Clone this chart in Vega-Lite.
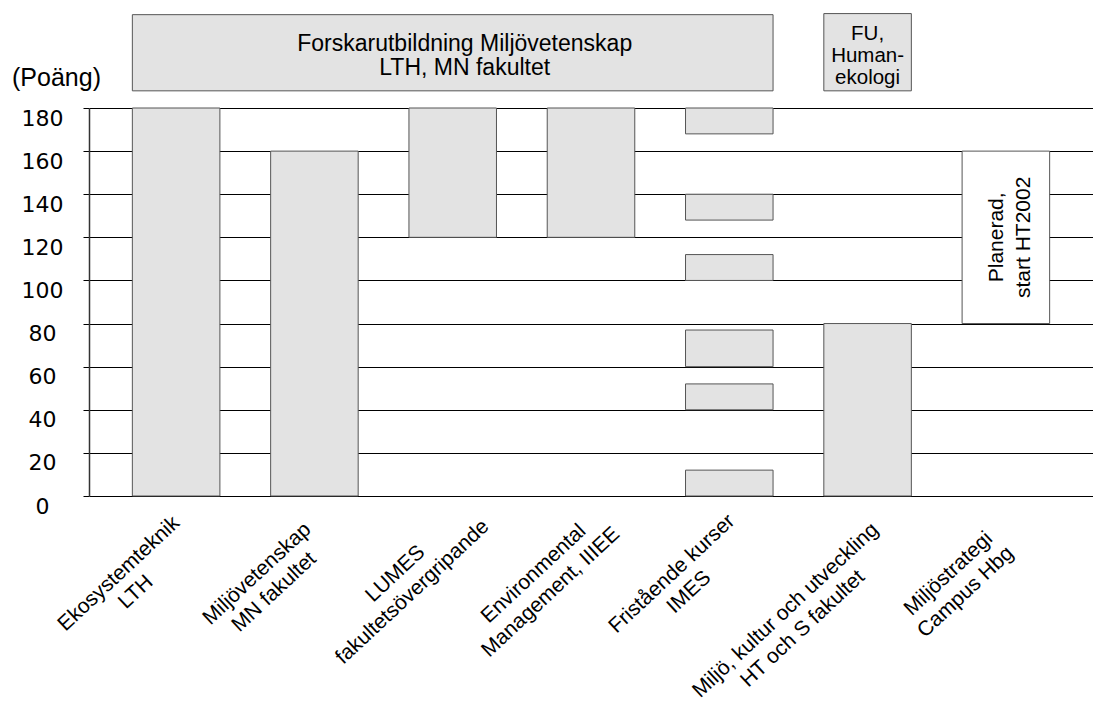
{
  "$schema": "https://vega.github.io/schema/vega-lite/v6.json",
  "padding": {"left": 11, "top": 5, "right": 0, "bottom": 0},
  "background": "white",
  "bounds": "flush",
  "spacing": 0,
  "config": {"view": {"stroke": null}, "font": "Liberation Sans"},
  "resolve": {"scale": {"x": "shared", "y": "independent"}},
  "datasets": {
    "bars": [
      {"cat": "Ekosystemteknik\nLTH", "lo": 0, "hi": 180, "kind": "befintlig"},
      {"cat": "Miljövetenskap\nMN fakultet", "lo": 0, "hi": 160, "kind": "befintlig"},
      {"cat": "LUMES\nfakultetsövergripande", "lo": 120, "hi": 180, "kind": "befintlig"},
      {"cat": "Environmental\nManagement, IIIEE", "lo": 120, "hi": 180, "kind": "befintlig"},
      {"cat": "Fristående kurser\nIMES", "lo": 0, "hi": 12, "kind": "befintlig"},
      {"cat": "Fristående kurser\nIMES", "lo": 40, "hi": 52, "kind": "befintlig"},
      {"cat": "Fristående kurser\nIMES", "lo": 60, "hi": 77, "kind": "befintlig"},
      {"cat": "Fristående kurser\nIMES", "lo": 100, "hi": 112, "kind": "befintlig"},
      {"cat": "Fristående kurser\nIMES", "lo": 128, "hi": 140, "kind": "befintlig"},
      {"cat": "Fristående kurser\nIMES", "lo": 168, "hi": 180, "kind": "befintlig"},
      {"cat": "Miljö, kultur och utveckling\nHT och S fakultet", "lo": 0, "hi": 80, "kind": "befintlig"},
      {"cat": "Miljöstrategi\nCampus Hbg", "lo": 80, "hi": 160, "kind": "planerad"}
    ],
    "cats": [
      {"cat": "Ekosystemteknik\nLTH"},
      {"cat": "Miljövetenskap\nMN fakultet"},
      {"cat": "LUMES\nfakultetsövergripande"},
      {"cat": "Environmental\nManagement, IIIEE"},
      {"cat": "Fristående kurser\nIMES"},
      {"cat": "Miljö, kultur och utveckling\nHT och S fakultet"},
      {"cat": "Miljöstrategi\nCampus Hbg"}
    ],
    "notes": [
      {"cat": "Miljöstrategi\nCampus Hbg", "text": "Planerad,\nstart HT2002", "ymid": 120}
    ],
    "top": [
      {"group": "lth", "from": "Ekosystemteknik\nLTH", "to": "Fristående kurser\nIMES", "mid": "LUMES\nfakultetsövergripande", "lo": 188, "hi": 223.5, "ymid": 205.75, "text": "Forskarutbildning Miljövetenskap\nLTH, MN fakultet"},
      {"group": "hek", "from": "Miljö, kultur och utveckling\nHT och S fakultet", "to": "Miljö, kultur och utveckling\nHT och S fakultet", "mid": "Miljö, kultur och utveckling\nHT och S fakultet", "lo": 188, "hi": 224, "ymid": 206, "text": "FU,\nHuman-\nekologi"}
    ]
  },
  "vconcat": [
    {
      "width": 1004,
      "height": 103,
      "data": {"name": "top"},
      "layer": [
        {
          "mark": {"type": "bar", "fill": "#e3e3e3", "stroke": "#555555", "strokeWidth": 1},
          "encoding": {
            "x": {"field": "from", "type": "nominal", "bandPosition": 0,
                  "scale": {"domain": ["Ekosystemteknik\nLTH", "Miljövetenskap\nMN fakultet", "LUMES\nfakultetsövergripande", "Environmental\nManagement, IIIEE", "Fristående kurser\nIMES", "Miljö, kultur och utveckling\nHT och S fakultet", "Miljöstrategi\nCampus Hbg"], "paddingInner": 0.367, "paddingOuter": 0.3135},
                  "axis": null},
            "x2": {"field": "to", "bandPosition": 1},
            "y": {"field": "lo", "type": "quantitative", "scale": {"domain": [180, 228], "nice": false, "zero": false}, "axis": null},
            "y2": {"field": "hi"}
          }
        },
        {
          "transform": [{"filter": "datum.group === 'lth'"}],
          "mark": {"type": "text", "fontSize": 23, "lineHeight": 24, "lineBreak": "\n", "align": "center", "baseline": "middle", "dx": 12, "dy": -9, "color": "#000000"},
          "encoding": {
            "x": {"field": "mid", "type": "nominal"},
            "y": {"field": "ymid", "type": "quantitative"},
            "text": {"field": "text"}
          }
        },
        {
          "transform": [{"filter": "datum.group === 'hek'"}],
          "mark": {"type": "text", "fontSize": 20.5, "lineHeight": 22, "lineBreak": "\n", "align": "center", "baseline": "middle", "dy": -18, "color": "#000000"},
          "encoding": {
            "x": {"field": "mid", "type": "nominal"},
            "y": {"field": "ymid", "type": "quantitative"},
            "text": {"field": "text"}
          }
        }
      ]
    },
    {
      "width": 1004,
      "height": 388,
      "layer": [
        {
          "data": {"name": "bars"},
          "mark": {"type": "bar", "stroke": "#555555", "strokeWidth": 1},
          "encoding": {
            "x": {"field": "cat", "type": "nominal",
                  "scale": {"domain": ["Ekosystemteknik\nLTH", "Miljövetenskap\nMN fakultet", "LUMES\nfakultetsövergripande", "Environmental\nManagement, IIIEE", "Fristående kurser\nIMES", "Miljö, kultur och utveckling\nHT och S fakultet", "Miljöstrategi\nCampus Hbg"], "paddingInner": 0.367, "paddingOuter": 0.3135},
                  "axis": null},
            "y": {"field": "lo", "type": "quantitative",
                  "scale": {"domain": [0, 180], "nice": false},
                  "axis": {
                    "values": [0, 20, 40, 60, 80, 100, 120, 140, 160, 180],
                    "grid": true, "gridColor": "#000000", "gridWidth": 1, "gridOpacity": 1,
                    "ticks": true, "tickColor": "#000000", "tickSize": 6, "tickWidth": 1,
                    "domain": true, "domainColor": "#333333", "domainWidth": 1.5,
                    "labelFont": "DejaVu Sans", "labelFontSize": 22, "labelColor": "#000000",
                    "labelAlign": "center", "labelBaseline": "top", "labelPadding": 41,
                    "labelFlush": false, "labelOverlap": false, "labelBound": false,
                    "title": "(Poäng)", "titleAngle": 0, "titleFont": "Liberation Sans", "titleFontSize": 25,
                    "titleFontWeight": "normal", "titleColor": "#000000", "titleAlign": "center",
                    "titleBaseline": "middle", "titleX": -33, "titleY": -31
                  }},
            "y2": {"field": "hi"},
            "fill": {"field": "kind", "type": "nominal", "scale": {"domain": ["befintlig", "planerad"], "range": ["#e3e3e3", "#ffffff"]}, "legend": null}
          }
        },
        {
          "data": {"name": "notes"},
          "mark": {"type": "text", "angle": -90, "fontSize": 21, "lineHeight": 27, "lineBreak": "\n", "align": "center", "baseline": "middle", "dy": -9, "color": "#000000"},
          "encoding": {
            "x": {"field": "cat", "type": "nominal"},
            "y": {"field": "ymid", "type": "quantitative"},
            "text": {"field": "text"}
          }
        },
        {
          "data": {"name": "cats"},
          "transform": [{"filter": "datum.cat !== 'Miljö, kultur och utveckling\\nHT och S fakultet'"}],
          "mark": {"type": "text", "angle": -43, "fontSize": 21, "lineHeight": 25, "lineBreak": "\n", "align": "center", "baseline": "middle", "dx": -95, "dy": 18, "color": "#000000"},
          "encoding": {
            "x": {"field": "cat", "type": "nominal"},
            "y": {"datum": 0, "type": "quantitative"},
            "text": {"field": "cat"}
          }
        },
        {
          "data": {"name": "cats"},
          "transform": [{"filter": "datum.cat === 'Miljö, kultur och utveckling\\nHT och S fakultet'"}],
          "mark": {"type": "text", "angle": -43, "fontSize": 21, "lineHeight": 25, "lineBreak": "\n", "align": "center", "baseline": "middle", "dx": -138, "dy": 28, "color": "#000000"},
          "encoding": {
            "x": {"field": "cat", "type": "nominal"},
            "y": {"datum": 0, "type": "quantitative"},
            "text": {"field": "cat"}
          }
        }
      ]
    }
  ]
}
